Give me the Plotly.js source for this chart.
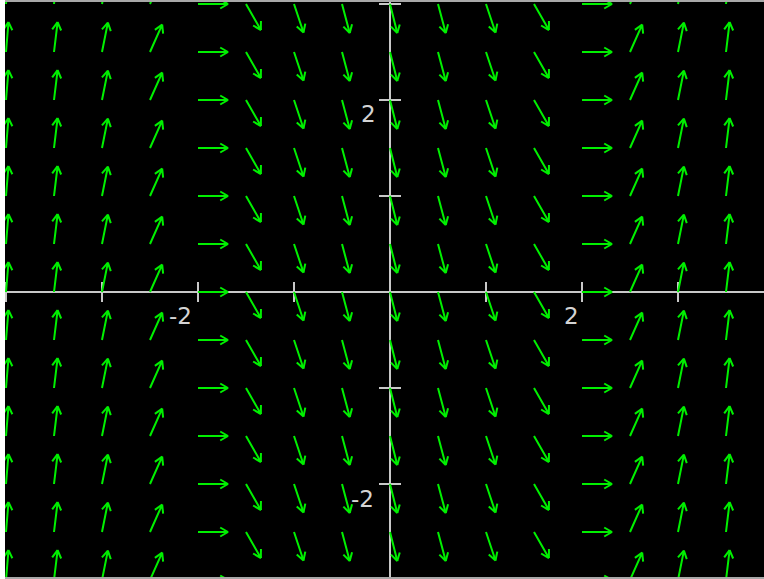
<!DOCTYPE html>
<html>
<head>
<meta charset="utf-8">
<script src="https://cdn.plot.ly/plotly-3.0.1.min.js"></script>
<style>html,body{margin:0;padding:0;background:#fff;}#chart{width:764px;height:579px;}</style>
</head>
<body>
<div id="chart"></div>
<script>
// ---- data ----
const columnX = [-4, -3.5, -3, -2.5, -2, -1.5, -1, -0.5, 0, 0.5, 1, 1.5, 2, 2.5, 3, 3.5];
const columnSlope = [12, 8.25, 5, 2.25, 0, -1.75, -3, -3.75, -4, -3.75, -3, -1.75, 0, 2.25, 5, 8.25];
const rowY = [-3, -2.5, -2, -1.5, -1, -0.5, 0, 0.5, 1, 1.5, 2, 2.5, 3];
const xTickVals = [-4, -3, -2, -1, 1, 2, 3];
const yTickVals = [-3, -2, -1, 1, 2, 3];
const xLabelVals = [-2, 2];
const xLabelText = ['-2', '2'];
const yLabelVals = [2, -2];
const yLabelText = ['2', '-2'];

// ---- layout geometry ----
const W = 764, H = 579;
const margin = {l: 5, r: 0, t: 2, b: 2, pad: 0};
const xRange = [-4.0104, 3.8958];
const yRange = [-2.96875, 3.0208];
const kx = (W - margin.l - margin.r) / (xRange[1] - xRange[0]);
const ky = (H - margin.t - margin.b) / (yRange[1] - yRange[0]);

const arrowLen = 30, headLen = 9, headAng = 30 * Math.PI / 180;

const ax = [], ay = [];
columnX.forEach((x0, i) => {
  const s = columnSlope[i];
  const n = Math.sqrt(1 + s * s);
  const ux = 1 / n, uy = s / n; // visual px direction, up positive
  rowY.forEach(y0 => {
    const tx = x0 + arrowLen * ux / kx, ty = y0 + arrowLen * uy / ky;
    const h = [];
    [headAng, -headAng].forEach(a => {
      const rx = -(ux * Math.cos(a) - uy * Math.sin(a));
      const ry = -(ux * Math.sin(a) + uy * Math.cos(a));
      h.push([tx + headLen * rx / kx, ty + headLen * ry / ky]);
    });
    ax.push(x0, tx, h[0][0], null, tx, h[1][0], null);
    ay.push(y0, ty, h[0][1], null, ty, h[1][1], null);
  });
});

const lx = [], ly = [];
lx.push(xRange[0], xRange[1], null, 0, 0, null);
ly.push(0, 0, null, yRange[0], yRange[1], null);
xTickVals.forEach(v => { lx.push(v, v, null); ly.push(-10 / ky, 10 / ky, null); });
yTickVals.forEach(v => { lx.push(-11 / kx, 11 / kx, null); ly.push(v, v, null); });

const traces = [
  {x: lx, y: ly, type: 'scatter', mode: 'lines', line: {color: '#c8c8c8', width: 2}, hoverinfo: 'skip'},
  {x: ax, y: ay, type: 'scatter', mode: 'lines', line: {color: '#00f000', width: 2}, hoverinfo: 'skip'}
];

const labelFont = {family: 'DejaVu Sans', size: 23, color: '#d4d4d4'};
const annotations = [];
xLabelVals.forEach((v, i) => annotations.push({
  x: v, y: 0, xref: 'x', yref: 'y', text: xLabelText[i], showarrow: false,
  xanchor: 'right', yanchor: 'middle', xshift: v < 0 ? -4 : -1, yshift: -24, font: labelFont
}));
yLabelVals.forEach((v, i) => annotations.push({
  x: 0, y: v, xref: 'x', yref: 'y', text: yLabelText[i], showarrow: false,
  xanchor: 'right', yanchor: 'middle', xshift: v < 0 ? -14 : -12, yshift: v < 0 ? -15 : -14, font: labelFont
}));

const layout = {
  width: W, height: H, margin: margin,
  paper_bgcolor: '#ffffff', plot_bgcolor: '#000000',
  showlegend: false, hovermode: false,
  xaxis: {range: xRange, showgrid: false, zeroline: false, showticklabels: false, ticks: '',
          showline: true, mirror: true, linecolor: '#a8a8a8', linewidth: 2, fixedrange: true},
  yaxis: {range: yRange, showgrid: false, zeroline: false, showticklabels: false, ticks: '',
          showline: false, fixedrange: true},
  annotations: annotations
};

Plotly.newPlot('chart', traces, layout, {displayModeBar: false, staticPlot: true});
</script>
</body>
</html>
